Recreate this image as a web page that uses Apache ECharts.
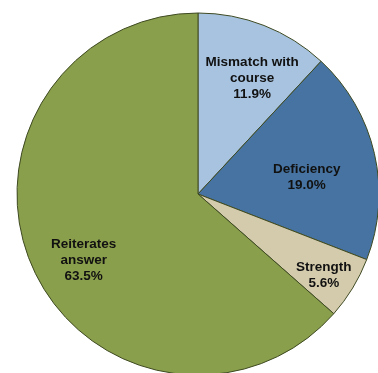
<!DOCTYPE html>
<html><head><meta charset="utf-8">
<script src="https://cdn.jsdelivr.net/npm/echarts@6/dist/echarts.min.js"></script>
<style>html,body{margin:0;padding:0;background:#fff}#c{width:378px;height:373px}</style>
</head><body><div id="c"></div>
<script>
const categories = ['Mismatch with\ncourse', 'Deficiency', 'Strength', 'Reiterates\nanswer'];
const values = [11.9, 19.0, 5.6, 63.5];
const colors = ['#a7c3df', '#4673a1', '#d4cbac', '#8a9f4b'];
const labelRadiusFrac = [0.707, 0.608, 0.829, 0.729];
const labelAngleShiftDeg = [3.6, 4, 1.7, -5.7];

const CX = 198, CY = 194, R = 181;
const total = values.reduce((a, b) => a + b, 0);
const midAngles = [];
let acc = 0;
values.forEach(v => { midAngles.push((acc + v / 2) / total * 2 * Math.PI); acc += v; });

const chart = echarts.init(document.getElementById('c'), null, {renderer: 'canvas'});
chart.setOption({
  animation: false,
  series: [{
    type: 'pie',
    center: [CX, CY],
    radius: [0, R],
    startAngle: 90,
    clockwise: true,
    data: categories.map((n, i) => ({name: n, value: values[i], itemStyle: {color: colors[i]}})),
    itemStyle: {borderColor: '#3e4a22', borderWidth: 1},
    label: {
      show: true,
      position: 'inside',
      formatter: p => p.name + '\n' + p.value.toFixed(1) + '%',
      fontFamily: 'Liberation Sans, Arial, sans-serif',
      fontWeight: 'bold',
      fontSize: 13.5,
      lineHeight: 16,
      color: '#111',
      align: 'center'
    },
    labelLine: {show: false},
    labelLayout: function (params) {
      const i = params.dataIndex;
      const a = midAngles[i] + labelAngleShiftDeg[i] * Math.PI / 180;
      const r = R * labelRadiusFrac[i];
      return {
        x: CX + r * Math.sin(a),
        y: CY - r * Math.cos(a),
        align: 'center',
        verticalAlign: 'middle'
      };
    }
  }]
});
</script></body></html>
